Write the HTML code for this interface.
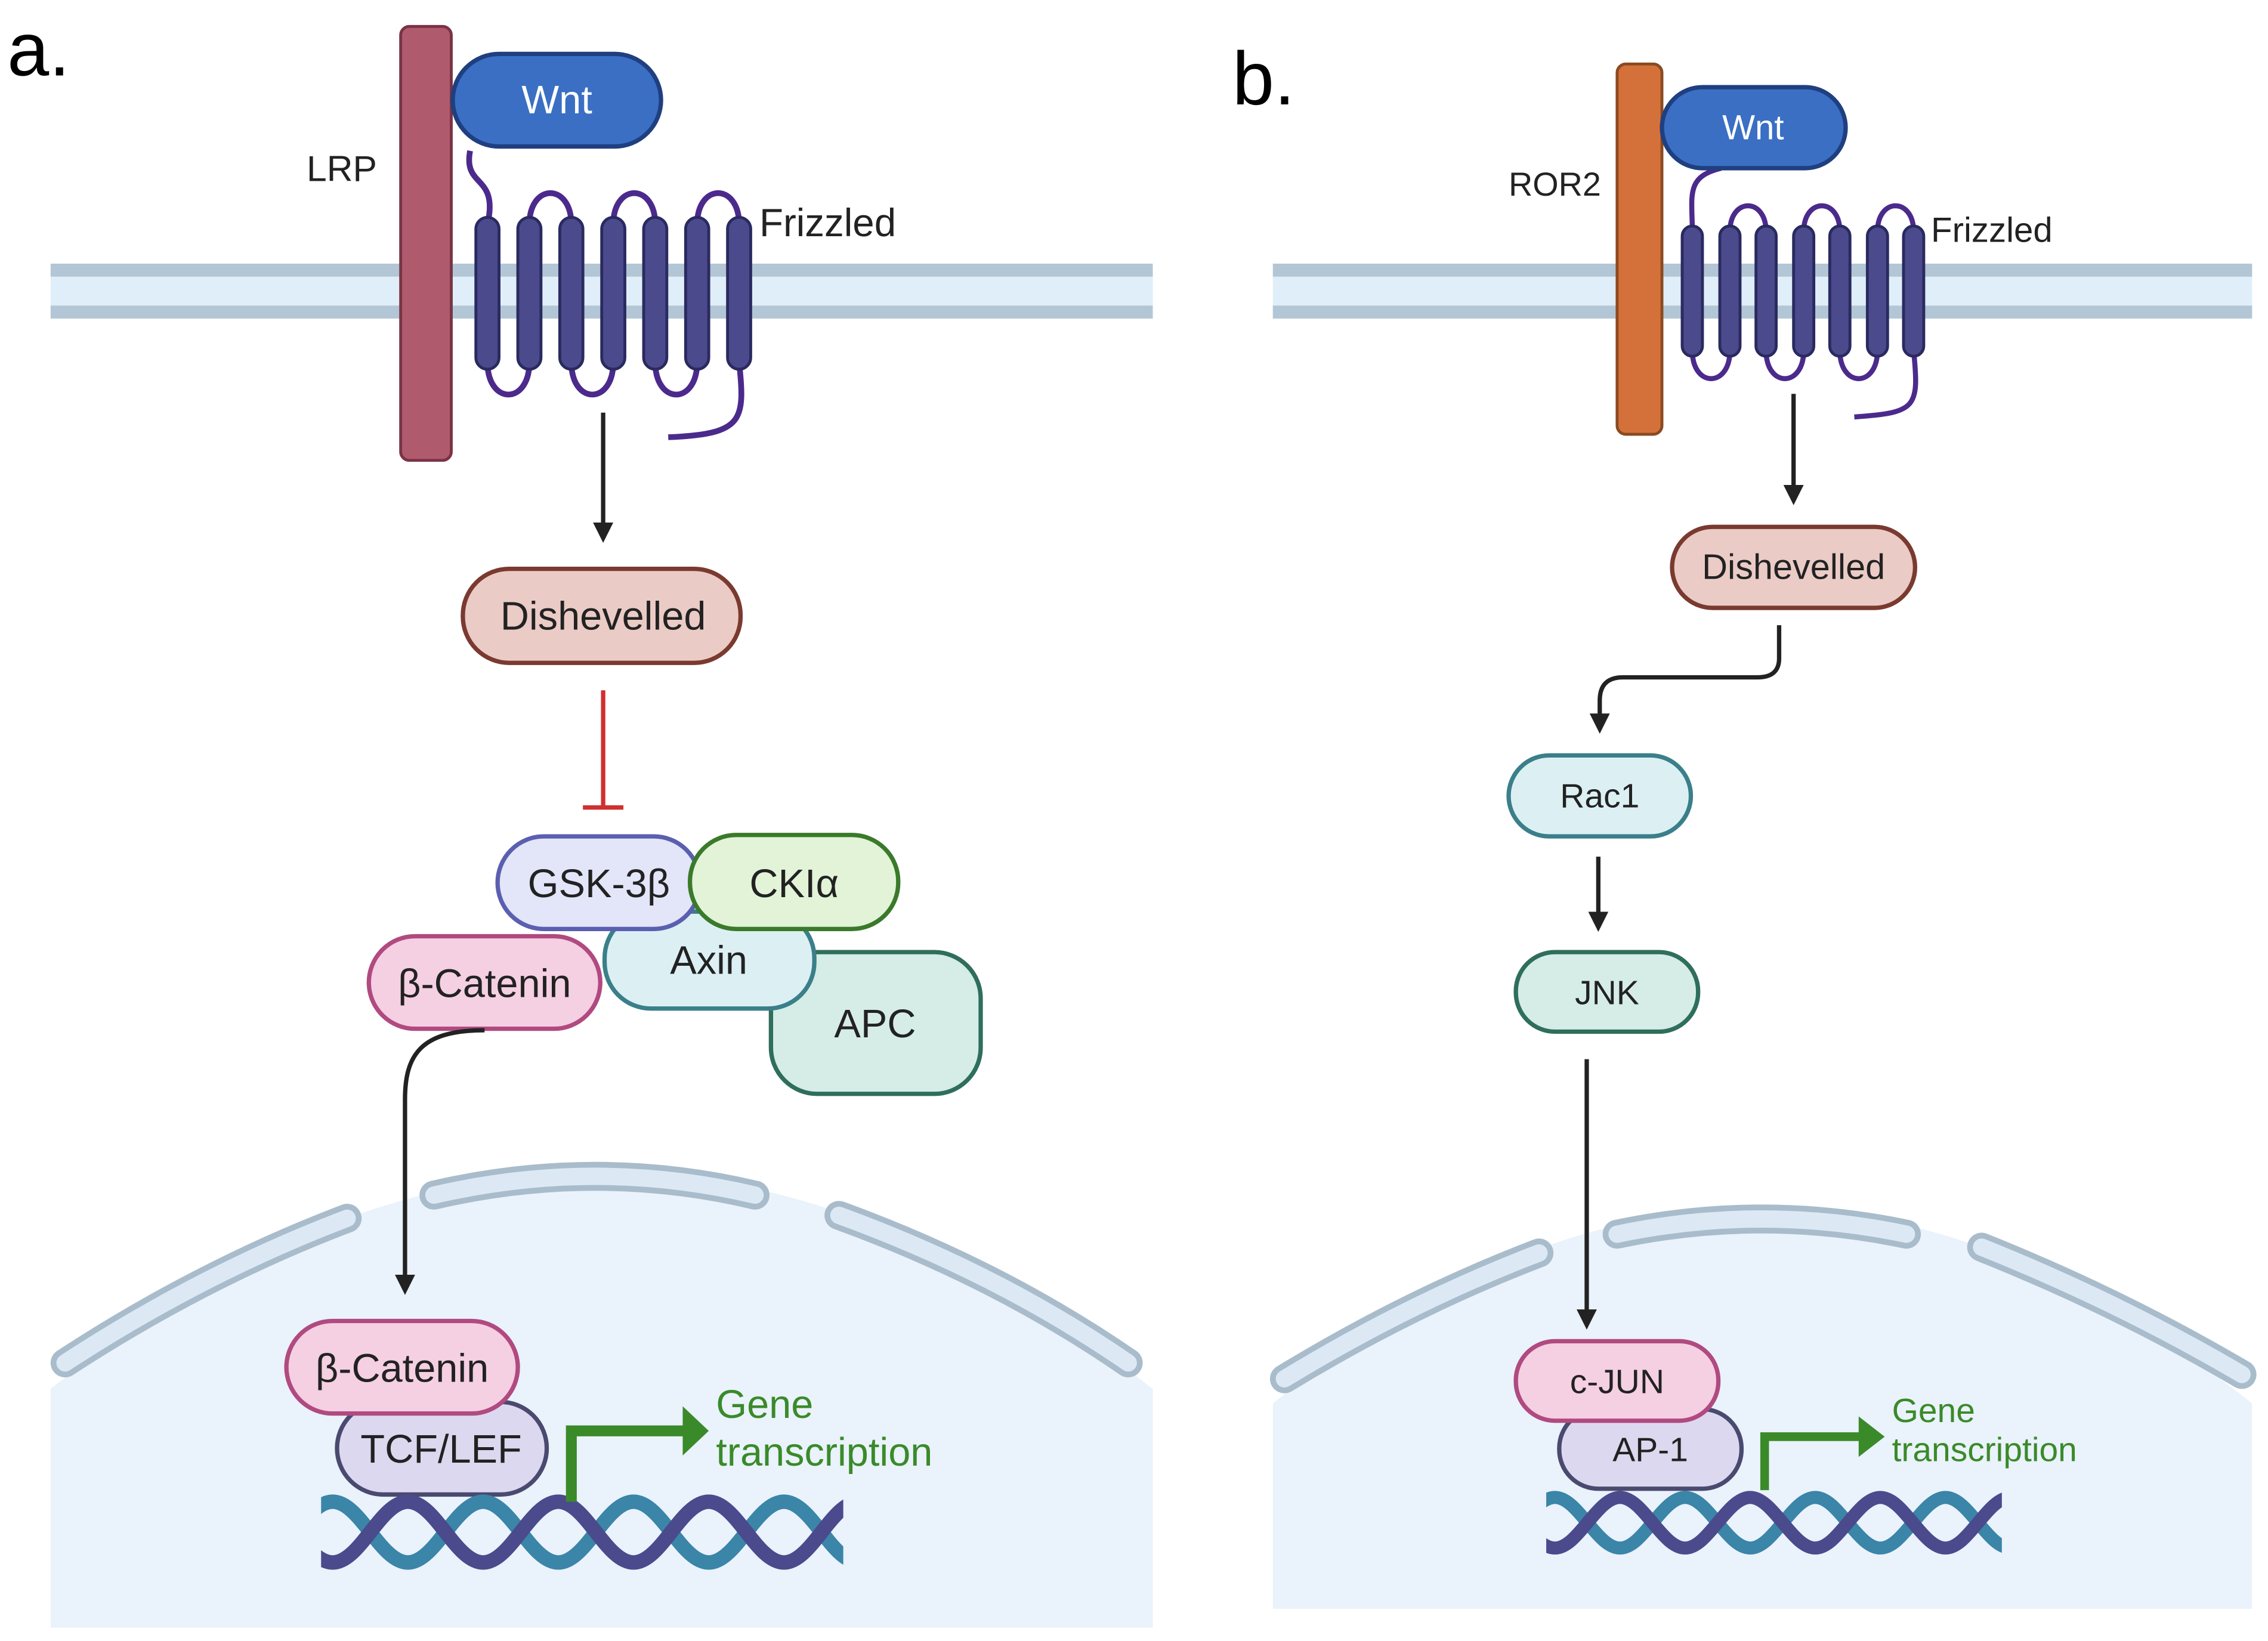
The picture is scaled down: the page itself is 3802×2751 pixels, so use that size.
<!DOCTYPE html>
<html><head><meta charset="utf-8"><style>
html,body{margin:0;padding:0;background:#fff}
svg{display:block}
text{font-family:"Liberation Sans",sans-serif}
</style></head><body>
<svg width="3802" height="2751" viewBox="0 0 1568 1134" xmlns="http://www.w3.org/2000/svg">
<defs>
<marker id="ah" markerWidth="14" markerHeight="14" refX="7" refY="7" orient="auto" markerUnits="userSpaceOnUse" viewBox="0 0 14 14"><path d="M0,0 L14,7 L0,14 Z" fill="#222"/></marker>
<clipPath id="ca"><rect x="222" y="1000" width="361" height="120"/></clipPath>
<clipPath id="cb"><rect x="1069" y="1000" width="315" height="100"/></clipPath>
</defs>
<rect width="1568" height="1134" fill="#fff"/>

<text x="5" y="52" font-size="52">a.</text>
<rect x="35" y="184" width="762" height="34" fill="#dfeef8"/>
<rect x="35" y="182" width="762" height="9" fill="#b3c6d6"/>
<rect x="35" y="211" width="762" height="9" fill="#b3c6d6"/>
<path d="M35,960 Q416,660 797,960 L797,1125 L35,1125 Z" fill="#eaf2fb"/>
<g fill="none" stroke-linecap="round">
<path d="M45,942 Q140,880 240,842" stroke="#a9bccb" stroke-width="20"/>
<path d="M45,942 Q140,880 240,842" stroke="#dce9f5" stroke-width="12"/>
<path d="M300,826 Q412,800 522,826" stroke="#a9bccb" stroke-width="20"/>
<path d="M300,826 Q412,800 522,826" stroke="#dce9f5" stroke-width="12"/>
<path d="M580,840 Q690,880 780,942" stroke="#a9bccb" stroke-width="20"/>
<path d="M580,840 Q690,880 780,942" stroke="#dce9f5" stroke-width="12"/>
</g>
<rect x="277" y="18" width="35" height="300" rx="6" fill="#b05a6e" stroke="#7a3344" stroke-width="2"/>
<text x="212" y="125" font-size="25" fill="#222">LRP</text>
<g fill="none" stroke="#4b2a8c" stroke-width="4">
<path d="M325,104 C320,130 345,120 337,155"/>
<path d="M366,155 C366,126 395,126 395,155"/>
<path d="M424,155 C424,126 453,126 453,155"/>
<path d="M482,155 C482,126 511,126 511,155"/>
<path d="M337,250 C337,280 366,280 366,250"/>
<path d="M395,250 C395,280 424,280 424,250"/>
<path d="M453,250 C453,280 482,280 482,250"/>
<path d="M511,250 C515,290 515,300 462,302"/>
</g>
<g fill="#4a4a8c" stroke="#2a2a60" stroke-width="2">
<rect x="329" y="150" width="16" height="105" rx="8"/>
<rect x="358" y="150" width="16" height="105" rx="8"/>
<rect x="387" y="150" width="16" height="105" rx="8"/>
<rect x="416" y="150" width="16" height="105" rx="8"/>
<rect x="445" y="150" width="16" height="105" rx="8"/>
<rect x="474" y="150" width="16" height="105" rx="8"/>
<rect x="503" y="150" width="16" height="105" rx="8"/>
</g>
<text x="525" y="163" font-size="27" fill="#222">Frizzled</text>
<rect x="313" y="37" width="144" height="64" rx="32" fill="#3a6fc4" stroke="#1f3f80" stroke-width="3"/>
<text x="385" y="78" font-size="27.5" fill="#fff" text-anchor="middle">Wnt</text>
<line x1="417" y1="285" x2="417" y2="368" stroke="#222" stroke-width="3" marker-end="url(#ah)"/>
<rect x="320" y="393" width="192" height="65" rx="32" fill="#ebcbc6" stroke="#7a3a30" stroke-width="3"/>
<text x="417" y="435" font-size="27.5" fill="#222" text-anchor="middle">Dishevelled</text>
<line x1="417" y1="477" x2="417" y2="558" stroke="#d03030" stroke-width="3"/>
<line x1="403" y1="558" x2="431" y2="558" stroke="#d03030" stroke-width="3"/>
<rect x="533" y="658" width="145" height="98" rx="32" fill="#d5ede6" stroke="#2f6e5c" stroke-width="3"/>
<text x="605" y="717" font-size="27.5" fill="#222" text-anchor="middle">APC</text>
<rect x="418" y="630" width="145" height="67" rx="32" fill="#dcf0f4" stroke="#3a7f8a" stroke-width="3"/>
<text x="490" y="673" font-size="27.5" fill="#222" text-anchor="middle">Axin</text>
<rect x="344" y="578" width="140" height="64" rx="32" fill="#e3e5f8" stroke="#5a5fb0" stroke-width="3"/>
<text x="414" y="620" font-size="27.5" fill="#222" text-anchor="middle">GSK-3β</text>
<rect x="477" y="577" width="144" height="65" rx="32" fill="#e2f3d8" stroke="#3a7a2a" stroke-width="3"/>
<text x="549" y="620" font-size="27.5" fill="#222" text-anchor="middle">CKIα</text>
<rect x="255" y="647" width="160" height="64" rx="32" fill="#f5cfe2" stroke="#b04a80" stroke-width="3"/>
<text x="335" y="689" font-size="27.5" fill="#222" text-anchor="middle">β-Catenin</text>
<path d="M335,712 C290,712 280,730 280,760 L280,888" fill="none" stroke="#222" stroke-width="3" marker-end="url(#ah)"/>
<rect x="233" y="969" width="145" height="64" rx="32" fill="#dcd8ef" stroke="#4a4a70" stroke-width="3"/>
<text x="305" y="1011" font-size="27.5" fill="#222" text-anchor="middle">TCF/LEF</text>
<rect x="198" y="913" width="160" height="64" rx="32" fill="#f5cfe2" stroke="#b04a80" stroke-width="3"/>
<text x="278" y="955" font-size="27.5" fill="#222" text-anchor="middle">β-Catenin</text>
<g fill="none" stroke-width="10" clip-path="url(#ca)">
<path d="M178,1080 C197,1080 211,1038 230,1038 S263,1080 282,1080 S315,1038 334,1038 S367,1080 386,1080 S419,1038 438,1038 S471,1080 490,1080 S523,1038 542,1038 S575,1080 594,1080" stroke="#3a85a8"/>
<path d="M178,1038 C197,1038 211,1080 230,1080 S263,1038 282,1038 S315,1080 334,1080 S367,1038 386,1038 S419,1080 438,1080 S471,1038 490,1038 S523,1080 542,1080 S575,1038 594,1038" stroke="#4a4a8c"/>
</g>
<path d="M395,1038 L395,989 L474,989" fill="none" stroke="#3a8a2a" stroke-width="7.5"/>
<path d="M472,972 L490,989 L472,1006 Z" fill="#3a8a2a"/>
<text x="495" y="980" font-size="27.5" fill="#3a8a2a">Gene</text>
<text x="495" y="1013" font-size="27.5" fill="#3a8a2a">transcription</text>

<text x="852" y="72" font-size="52">b.</text>
<rect x="880" y="184" width="677" height="34" fill="#dfeef8"/>
<rect x="880" y="182" width="677" height="9" fill="#b3c6d6"/>
<rect x="880" y="211" width="677" height="9" fill="#b3c6d6"/>
<path d="M880,970 Q1218,700 1557,970 L1557,1112 L880,1112 Z" fill="#eaf2fb"/>
<g fill="none" stroke-linecap="round">
<path d="M888,953 Q975,900 1064,866" stroke="#a9bccb" stroke-width="20"/>
<path d="M888,953 Q975,900 1064,866" stroke="#dce9f5" stroke-width="12"/>
<path d="M1118,853 Q1218,832 1318,853" stroke="#a9bccb" stroke-width="20"/>
<path d="M1118,853 Q1218,832 1318,853" stroke="#dce9f5" stroke-width="12"/>
<path d="M1370,862 Q1465,900 1550,950" stroke="#a9bccb" stroke-width="20"/>
<path d="M1370,862 Q1465,900 1550,950" stroke="#dce9f5" stroke-width="12"/>
</g>
<rect x="1118" y="44" width="31" height="256" rx="6" fill="#d4713a" stroke="#8a4a20" stroke-width="2"/>
<text x="1043" y="135" font-size="23" fill="#222">ROR2</text>
<g fill="none" stroke="#4b2a8c" stroke-width="3.5">
<path d="M1190,116 C1165,122 1170,135 1170,160"/>
<path d="M1196,160 C1196,136 1221,136 1221,160"/>
<path d="M1247,160 C1247,136 1272,136 1272,160"/>
<path d="M1298,160 C1298,136 1323,136 1323,160"/>
<path d="M1170,242 C1170,268 1196,268 1196,242"/>
<path d="M1221,242 C1221,268 1247,268 1247,242"/>
<path d="M1272,242 C1272,268 1298,268 1298,242"/>
<path d="M1323,242 C1327,282 1325,285 1282,288"/>
</g>
<g fill="#4a4a8c" stroke="#2a2a60" stroke-width="2">
<rect x="1163" y="156" width="14" height="90" rx="7"/>
<rect x="1189" y="156" width="14" height="90" rx="7"/>
<rect x="1214" y="156" width="14" height="90" rx="7"/>
<rect x="1240" y="156" width="14" height="90" rx="7"/>
<rect x="1265" y="156" width="14" height="90" rx="7"/>
<rect x="1291" y="156" width="14" height="90" rx="7"/>
<rect x="1316" y="156" width="14" height="90" rx="7"/>
</g>
<text x="1335" y="167" font-size="24" fill="#222">Frizzled</text>
<rect x="1149" y="60" width="127" height="56" rx="28" fill="#3a6fc4" stroke="#1f3f80" stroke-width="3"/>
<text x="1212" y="96" font-size="24" fill="#fff" text-anchor="middle">Wnt</text>
<line x1="1240" y1="272" x2="1240" y2="342" stroke="#222" stroke-width="3" marker-end="url(#ah)"/>
<rect x="1156" y="364" width="168" height="56" rx="28" fill="#ebcbc6" stroke="#7a3a30" stroke-width="3"/>
<text x="1240" y="400" font-size="24.5" fill="#222" text-anchor="middle">Dishevelled</text>
<path d="M1230,432 L1230,455 Q1230,468 1215,468 L1122,468 Q1106,468 1106,484 L1106,500" fill="none" stroke="#222" stroke-width="3" marker-end="url(#ah)"/>
<rect x="1043" y="522" width="126" height="56" rx="28" fill="#dcf0f4" stroke="#3a7f8a" stroke-width="3"/>
<text x="1106" y="558" font-size="23.5" fill="#222" text-anchor="middle">Rac1</text>
<line x1="1105" y1="592" x2="1105" y2="637" stroke="#222" stroke-width="3" marker-end="url(#ah)"/>
<rect x="1048" y="658" width="126" height="55" rx="27" fill="#d5ede6" stroke="#2f6e5c" stroke-width="3"/>
<text x="1111" y="694" font-size="23.5" fill="#222" text-anchor="middle">JNK</text>
<line x1="1097" y1="732" x2="1097" y2="912" stroke="#222" stroke-width="3" marker-end="url(#ah)"/>
<rect x="1078" y="974" width="126" height="55" rx="27" fill="#dcd8ef" stroke="#4a4a70" stroke-width="3"/>
<text x="1141" y="1010" font-size="23.5" fill="#222" text-anchor="middle">AP-1</text>
<rect x="1048" y="927" width="140" height="55" rx="27" fill="#f5cfe2" stroke="#b04a80" stroke-width="3"/>
<text x="1118" y="963" font-size="23.5" fill="#222" text-anchor="middle">c-JUN</text>
<g fill="none" stroke-width="9" clip-path="url(#cb)">
<path d="M1030,1070 C1046,1070 1059,1035 1075,1035 S1104,1070 1120,1070 S1149,1035 1165,1035 S1194,1070 1210,1070 S1239,1035 1255,1035 S1284,1070 1300,1070 S1329,1035 1345,1035 S1374,1070 1390,1070" stroke="#3a85a8"/>
<path d="M1030,1035 C1046,1035 1059,1070 1075,1070 S1104,1035 1120,1035 S1149,1070 1165,1070 S1194,1035 1210,1035 S1239,1070 1255,1070 S1284,1035 1300,1035 S1329,1070 1345,1070 S1374,1035 1390,1035" stroke="#4a4a8c"/>
</g>
<path d="M1220,1030 L1220,993 L1288,993" fill="none" stroke="#3a8a2a" stroke-width="6"/>
<path d="M1285,979 L1303,993 L1285,1007 Z" fill="#3a8a2a"/>
<text x="1308" y="983" font-size="23.5" fill="#3a8a2a">Gene</text>
<text x="1308" y="1010" font-size="23.5" fill="#3a8a2a">transcription</text>
</svg>
</body></html>
